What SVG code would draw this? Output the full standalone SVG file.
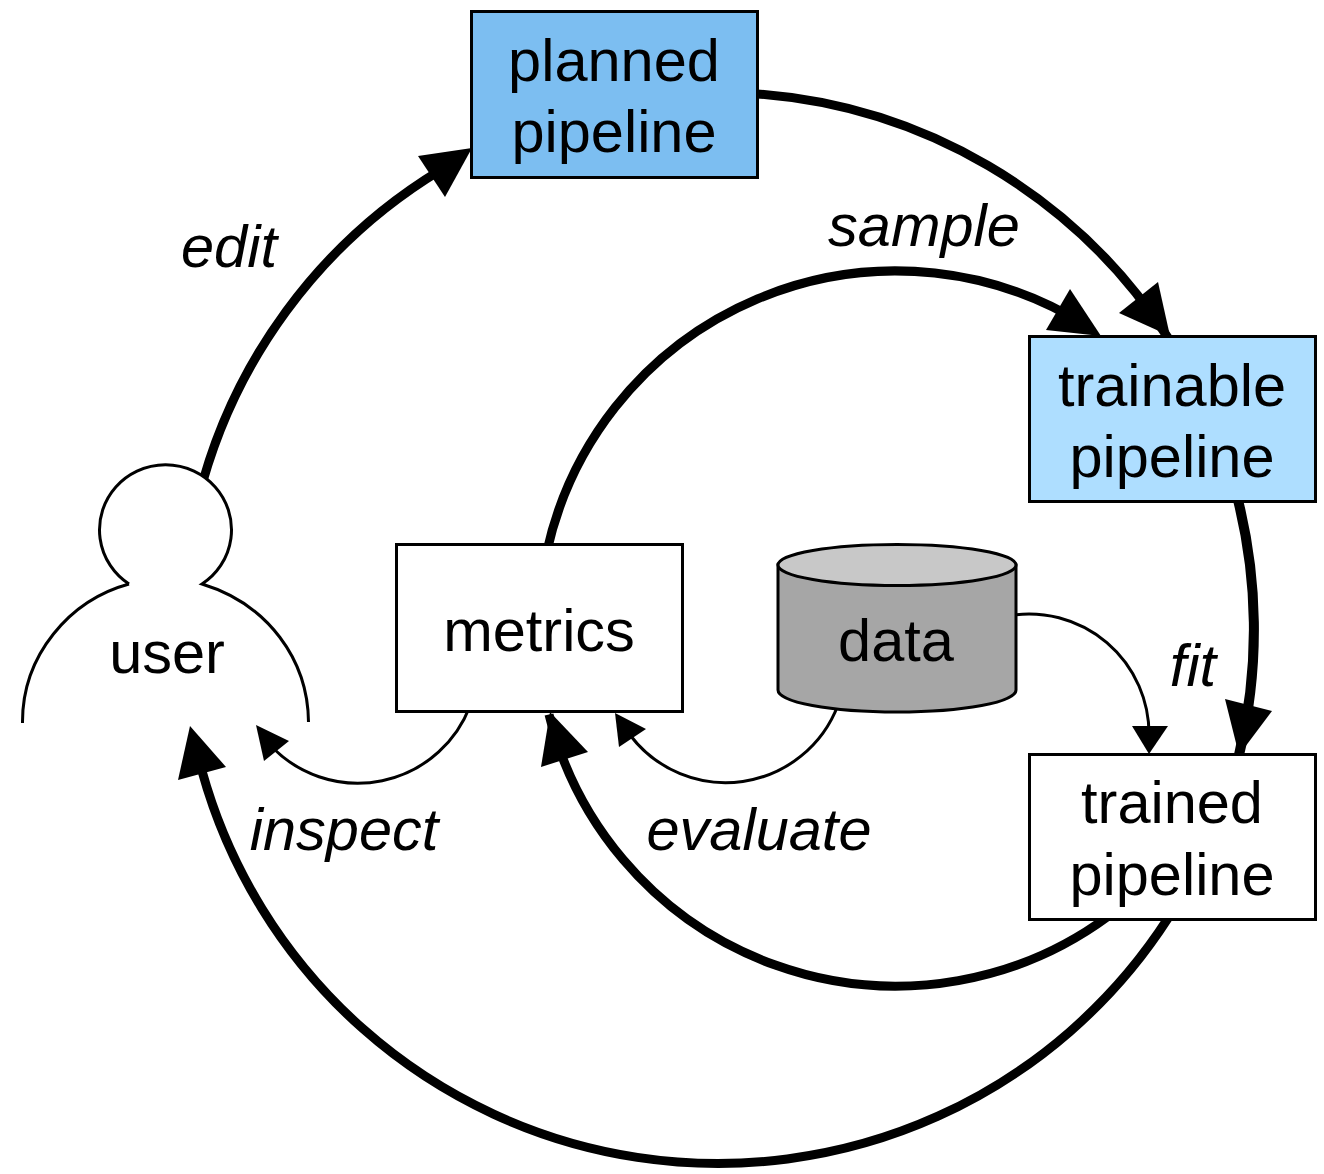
<svg xmlns="http://www.w3.org/2000/svg" width="1324" height="1174" viewBox="0 0 1324 1174">
<style>
text{font-family:"Liberation Sans",Arial,sans-serif;font-size:59.500px;fill:#000;text-anchor:middle}
.i{font-style:italic}
.b{stroke:#000;stroke-width:3px}
.thick{fill:none;stroke:#000;stroke-width:9px}
.thin{fill:none;stroke:#000;stroke-width:3px}
.head{fill:#000;stroke:none}
</style>
<rect width="1324" height="1174" fill="#fff"/>
<g id="connectors">
<path class="thick" d="M198 500A535.500 535.500 0 0 1 440 170.300"/>
<polygon class="head" points="472,148 418,156 445,197"/>
<path class="thick" d="M750 93.500A535.500 535.500 0 0 1 1168 337.700"/>
<polygon class="head" points="1170,336 1158,282 1119,313"/>
<path class="thick" d="M547 551A357.500 357.500 0 0 1 1085 325"/>
<polygon class="head" points="1101,336 1070,289 1046,330"/>
<path class="thick" stroke-width="10" style="stroke-width:10px" d="M1235.400 490A535.500 535.500 0 0 1 1239 755"/>
<polygon class="head" points="1239,755 1272,711 1225,699"/>
<path class="thick" d="M1108 916.500A357.500 357.500 0 0 1 549 714.500"/>
<polygon class="head" points="550,712 541,767 588,752"/>
<path class="thick" d="M1168 918.300A535.500 535.500 0 0 1 202 771"/>
<polygon class="head" points="190,726 178,780 226,767"/>
<path class="thin" d="M470 706A120 120 0 0 1 272 747"/>
<polygon class="head" points="256,725 264,761 289,741"/>
<path class="thin" d="M838 705A120 120 0 0 1 630 735"/>
<polygon class="head" points="615,713 619,747 646,729"/>
<path class="thin" d="M1010 615.500A120 120 0 0 1 1149 734"/>
<polygon class="head" points="1149,754 1132,726 1168,726"/>
</g>
<g id="planned"><rect class="b" x="471.500" y="11.500" width="286" height="166" fill="#7cbef1"/><text x="614" y="80.500">planned</text><text x="614" y="151.500">pipeline</text></g>
<g id="trainable"><rect class="b" x="1029.500" y="336.500" width="286" height="165" fill="#aedeff"/><text x="1172" y="406">trainable</text><text x="1172" y="477">pipeline</text></g>
<g id="trained"><rect class="b" x="1029.500" y="754.500" width="286" height="165" fill="#fff"/><text x="1172" y="823">trained</text><text x="1172" y="895">pipeline</text></g>
<g id="metrics"><rect class="b" x="396.500" y="544.500" width="286" height="167" fill="#fff"/><text x="539" y="651">metrics</text></g>
<g id="data">
<path class="b" d="M778 565V690C778 702 830 712 897 712C964 712 1016 702 1016 690V565Z" fill="#a6a6a6"/>
<ellipse class="b" cx="897" cy="565" rx="119" ry="20.500" fill="#c8c8c8"/>
<text x="896" y="661">data</text>
</g>
<g id="user">
<path d="M129 584A66 65 0 1 1 202 584C268 604 308 660 308.500 722M129 584C70 600 22 655 22.500 723" fill="#fff" stroke="#000" stroke-width="3"/>
<text x="167" y="673">user</text>
</g>
<g id="labels">
<text class="i" x="229" y="267">edit</text>
<text class="i" x="924" y="246">sample</text>
<text class="i" x="1193" y="686">fit</text>
<text class="i" x="344" y="850">inspect</text>
<text class="i" x="759" y="850">evaluate</text>
</g>
</svg>
